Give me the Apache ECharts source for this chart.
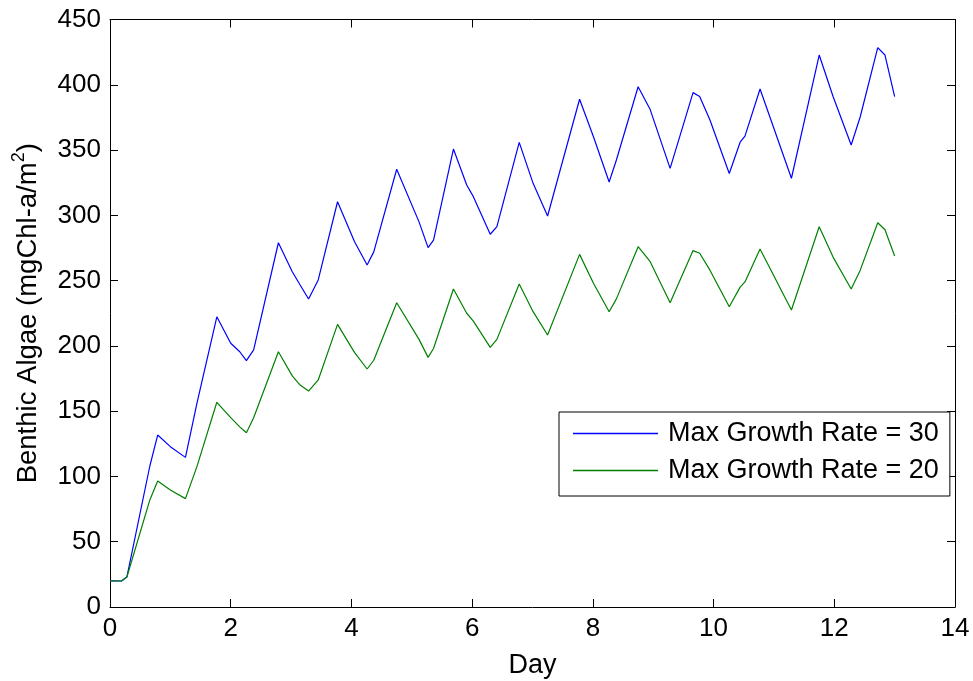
<!DOCTYPE html>
<html>
<head>
<meta charset="utf-8">
<script src="https://cdn.jsdelivr.net/npm/echarts@6/dist/echarts.min.js"></script>
<style>
  html, body { margin: 0; padding: 0; background: #fff; }
  #chart { width: 973px; height: 681px; }
</style>
</head>
<body>
<div id="chart"></div>
<script>
// values, day -> algae
var days = [0, 0.19, 0.28, 0.66, 0.79, 1.0, 1.25, 1.44, 1.77, 2.0, 2.15, 2.26, 2.38, 2.79, 3.02, 3.15, 3.29, 3.45,
    3.77, 4.05, 4.26, 4.37, 4.75, 5.12, 5.27, 5.36, 5.69, 5.91, 6.02, 6.30, 6.41, 6.78, 7.01, 7.25, 7.78, 8.01,
    8.27, 8.39, 8.75, 8.95, 9.28, 9.66, 9.77, 9.94, 10.26, 10.44, 10.52, 10.77, 11.29, 11.75, 11.98, 12.28,
    12.43, 12.72, 12.84, 13.0];
var rate30 = [20, 19.9, 23, 108, 131.7, 122.8, 114.6, 156, 222.3, 202, 195.5, 188.7, 197, 279, 256.8, 246.6, 235.9, 250.5,
    310.4, 280, 262, 272, 335.3, 295, 275.3, 281, 350.8, 323.2, 314.3, 285.5, 291.3, 355.9, 324.5, 299.5, 388.9, 360.2,
    325.5, 342.4, 398.5, 381, 336, 394, 391, 373, 332, 356, 360.7, 396.8, 328.4, 422.8, 391, 353.9,
    375.5, 428.4, 422.8, 391];
var rate20 = [20, 19.9, 23, 82, 96.5, 89.6, 83, 107.5, 156.8, 145, 138, 133.5, 145, 195.5, 177, 170, 165.4, 173.9,
    216.5, 195, 182.3, 189, 233, 205, 191.2, 198, 243.6, 225, 219, 198.9, 205, 247.4, 226.2, 208.3, 270.1, 248,
    226.2, 236, 276, 264.5, 233, 273, 271, 258, 230, 245, 249, 274.2, 227.5, 291.3, 268, 243.6,
    258, 294.3, 289, 268.8];
var seriesNames = ['Max Growth Rate = 30', 'Max Growth Rate = 20'];
var xTicks = [0, 14, 2];
var yTicks = [0, 450, 50];

var FONT = 'Liberation Sans';

var pairs = function (xs, ys) {
    var out = [];
    for (var i = 0; i < xs.length; i++) {
        out.push([xs[i], ys[i]]);
    }
    return out;
};

var makeAxis = function (t, pos, showLabel) {
    return {
        type: 'value',
        position: pos,
        min: t[0],
        max: t[1],
        interval: t[2],
        axisLine: {show: true, onZero: false, lineStyle: {color: '#000', width: 1}},
        axisTick: {show: true, inside: true, length: 8, lineStyle: {color: '#000'}},
        axisLabel: {show: showLabel, color: '#000', fontFamily: FONT, fontSize: 26, margin: 9},
        splitLine: {show: false}
    };
};

var xBottom = makeAxis(xTicks, 'bottom', true);
xBottom.name = 'Day';
xBottom.nameLocation = 'middle';
xBottom.nameGap = 45;
xBottom.nameTextStyle = {color: '#000', fontFamily: FONT, fontSize: 27};

var yLeft = makeAxis(yTicks, 'left', true);
yLeft.name = '{n|Benthic Algae (mgChl-a/m}{s|2}{n|)}';
yLeft.nameLocation = 'middle';
yLeft.nameGap = 68;
yLeft.nameTextStyle = {
    color: '#000', fontFamily: FONT, fontSize: 27,
    rich: {
        n: {fontFamily: FONT, fontSize: 27.5, color: '#000', lineHeight: 32, verticalAlign: 'bottom'},
        s: {fontFamily: FONT, fontSize: 18, color: '#000', lineHeight: 32, verticalAlign: 'top'}
    }
};

var chart = echarts.init(document.getElementById('chart'));
chart.setOption({
    animation: false,
    backgroundColor: '#fff',
    grid: {left: 110, right: 18, top: 19.5, bottom: 74, containLabel: false, outerBoundsMode: 'none'},
    xAxis: [xBottom, makeAxis(xTicks, 'top', false)],
    yAxis: [yLeft, makeAxis(yTicks, 'right', false)],
    legend: {
        orient: 'vertical',
        left: 559,
        top: 412,
        padding: [8, 11, 12, 14],
        itemGap: 10,
        itemWidth: 85,
        itemHeight: 27,
        icon: 'path://M0,0H85V1.3H0Z',
        backgroundColor: '#fff',
        borderColor: '#000',
        borderWidth: 1,
        borderRadius: 0,
        textStyle: {color: '#000', fontFamily: FONT, fontSize: 27, padding: [0, 0, 0, 5]},
        data: seriesNames
    },
    series: [{
        name: seriesNames[0],
        type: 'line',
        symbol: 'none',
        data: pairs(days, rate30),
        lineStyle: {color: '#0000ff', width: 1.2},
        itemStyle: {color: '#0000ff'}
    }, {
        name: seriesNames[1],
        type: 'line',
        symbol: 'none',
        data: pairs(days, rate20),
        lineStyle: {color: '#008000', width: 1.2},
        itemStyle: {color: '#008000'}
    }]
});
</script>
</body>
</html>
